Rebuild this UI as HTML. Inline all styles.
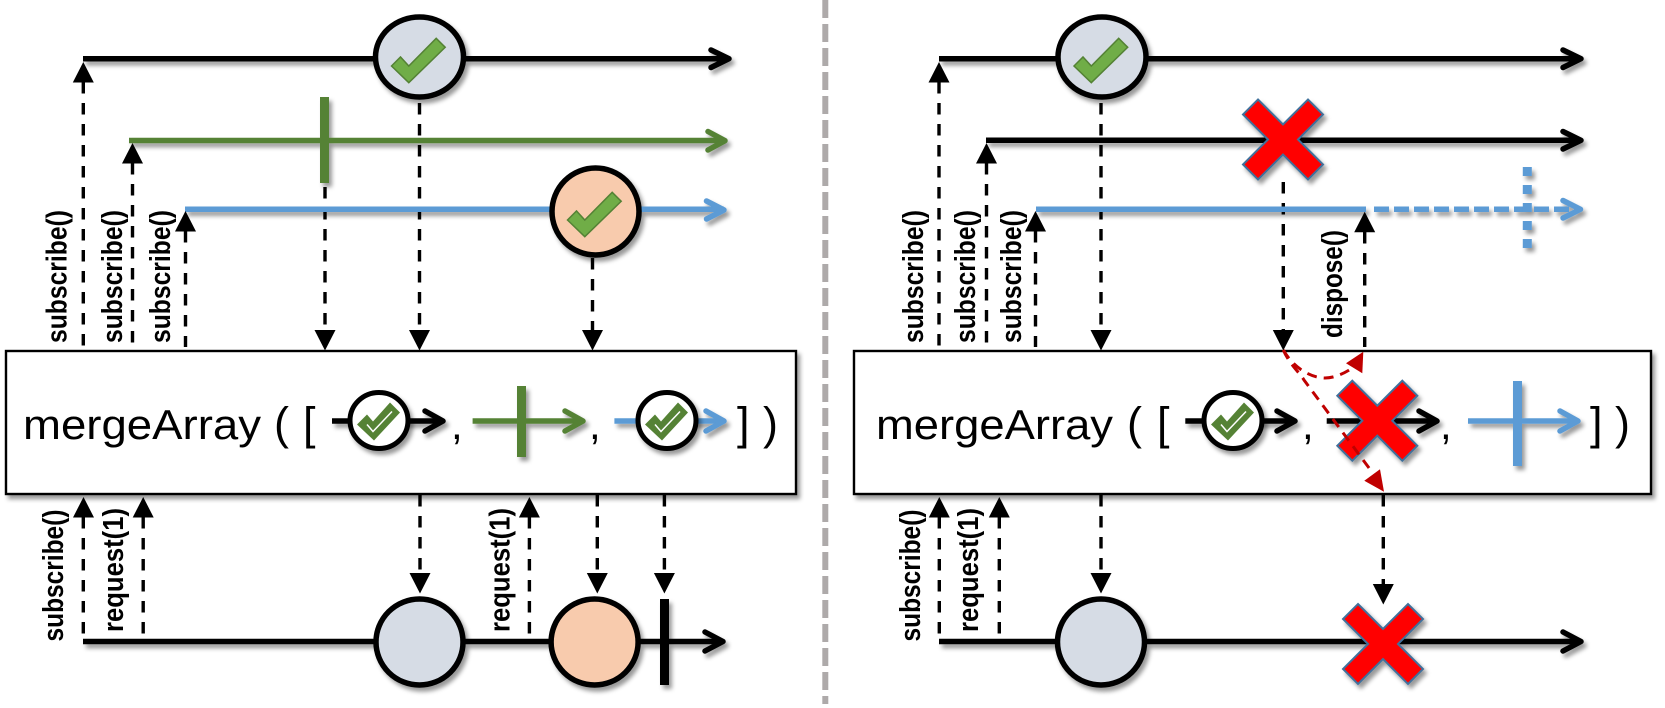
<!DOCTYPE html>
<html><head><meta charset="utf-8"><style>
html,body{margin:0;padding:0;background:#fff}
svg{display:block}
text{font-family:"Liberation Sans",sans-serif;fill:#000}
.b{font-weight:bold;font-size:29px}
.m{font-size:42px}
.p{font-size:45px}
.d{stroke:#000;stroke-width:3.4;stroke-dasharray:11.5 9.5;fill:none}
.a{fill:none;stroke-linecap:round;stroke-linejoin:round;stroke-width:5.5}
</style></head><body>
<svg width="1665" height="708" viewBox="0 0 1665 708" xmlns="http://www.w3.org/2000/svg">
<defs>
<filter id="s" x="-30%" y="-30%" width="160%" height="160%"><feDropShadow dx="3" dy="4" stdDeviation="2.2" flood-color="#000" flood-opacity="0.4"/></filter>
<polygon id="x" points="-25,-40 0,-15 25,-40 40,-25 15,0 40,25 25,40 0,15 -25,40 -40,25 -15,0 -40,-25" fill="#f00" stroke="#41719c" stroke-width="2"/>
<polygon id="c" points="-28,9 -19,0 -10.7,9 16.7,-18.7 25.7,-9.7 -10.7,25.7" fill="#70ad47" stroke="#548235" stroke-width="1.5"/>
<g id="mc"><ellipse cx="0" cy="0" rx="29" ry="28" fill="#fff" stroke="#000" stroke-width="5"/><polygon points="-22,4 -12,-6 -6,1 11,-18 21,-8 -5,20" fill="#548235"/><polyline points="-12,4 -6,11 13,-9" fill="none" stroke="#fff" stroke-width="1.5"/></g>
<polygon id="up" points="0,0 10.5,20.5 -10.5,20.5" fill="#000"/>
<polygon id="dn" points="0,20.5 10.5,0 -10.5,0" fill="#000"/>
</defs>

<!-- divider -->
<line x1="825.3" y1="0" x2="825.3" y2="704" stroke="#aeaaaa" stroke-width="6" stroke-dasharray="18 6"/>

<!-- LEFT dashes -->
<path class="d" d="M83.3,82V347M132.5,163V347M185.5,231V347M325,187V330M419.5,103V330M592.5,258V330"/>
<path class="d" d="M83.3,517V637M143.2,517V637M529.4,517V637M420,495V573M597.3,495V573M664.4,495V573"/>
<!-- RIGHT dashes -->
<path class="d" d="M939,82V347M986.5,163V347M1035.5,231V347M1101,103V330M1283.3,182V330M1364.7,232V347"/>
<path class="d" d="M939.3,517V637M999.3,517V637M1101,495V573M1383.3,495V584"/>

<!-- LEFT top lines -->
<g filter="url(#s)">
<path d="M83,58.7H728" stroke="#000" stroke-width="5.5" fill="none"/>
<polyline class="a" stroke="#000" points="711,50 729,58.7 711,67.5"/>
<path d="M129,140.5H724" stroke="#548235" stroke-width="5.5" fill="none"/>
<polyline class="a" stroke="#548235" points="708,131.5 725,140.7 708,150"/>
<rect x="320" y="97" width="9" height="86" fill="#548235"/>
<path d="M185,209.3H724" stroke="#5b9bd5" stroke-width="5.5" fill="none"/>
<polyline class="a" stroke="#5b9bd5" points="706.5,201 724,210 706.5,219"/>
<ellipse cx="419.5" cy="57" rx="44" ry="40" fill="#d6dce5" stroke="#000" stroke-width="5.5"/>
<ellipse cx="595.5" cy="211.5" rx="43.5" ry="43.5" fill="#f8cbad" stroke="#000" stroke-width="5.5"/>
</g>
<use href="#c" x="419.5" y="57"/>
<use href="#c" x="595.5" y="211"/>
<use href="#up" x="83.3" y="62"/><use href="#up" x="132.5" y="143"/><use href="#up" x="185.5" y="211"/>
<use href="#dn" x="325" y="330"/><use href="#dn" x="419.5" y="330"/><use href="#dn" x="592.5" y="330"/>

<!-- LEFT box -->
<rect x="6" y="351" width="790" height="143" fill="#fff" stroke="#000" stroke-width="2.4" filter="url(#s)"/>
<text class="m" x="23" y="439" textLength="238" lengthAdjust="spacingAndGlyphs">mergeArray</text>
<text class="p" x="274" y="439">(</text><text class="p" x="303" y="439">[</text>
<text class="m" x="451" y="439">,</text><text class="m" x="589" y="439">,</text>
<text class="p" x="737" y="439">]</text><text class="p" x="763" y="439">)</text>
<g filter="url(#s)">
<path d="M332,421H442" stroke="#000" stroke-width="5.5" fill="none"/>
<polyline class="a" stroke="#000" points="425,411 443,421 425,431"/>
<path d="M472.6,421H582" stroke="#548235" stroke-width="5.5" fill="none"/>
<polyline class="a" stroke="#548235" points="565,411 583,421 565,431"/>
<rect x="517" y="386" width="9" height="71" fill="#548235"/>
<path d="M614.4,421H723" stroke="#5b9bd5" stroke-width="5.5" fill="none"/>
<polyline class="a" stroke="#5b9bd5" points="706,411 724,421 706,431"/>
</g>
<g filter="url(#s)"><use href="#mc" x="379" y="420.5"/><use href="#mc" x="667" y="420.5"/></g>

<!-- LEFT bottom -->
<g filter="url(#s)">
<path d="M83,641.5H722" stroke="#000" stroke-width="5.5" fill="none"/>
<polyline class="a" stroke="#000" points="705,632 723,641.5 705,651"/>
<ellipse cx="419.5" cy="642" rx="43.5" ry="43" fill="#d6dce5" stroke="#000" stroke-width="5.5"/>
<ellipse cx="594.6" cy="642" rx="43.5" ry="43" fill="#f8cbad" stroke="#000" stroke-width="5.5"/>
<rect x="660" y="599" width="9" height="86" fill="#000"/>
</g>
<use href="#up" x="83.5" y="497"/><use href="#up" x="143.2" y="497"/><use href="#up" x="529.4" y="497"/>
<use href="#dn" x="420" y="573"/><use href="#dn" x="597.3" y="573"/><use href="#dn" x="664.4" y="573"/>

<!-- LEFT labels -->
<text class="b" transform="translate(66.5,343) rotate(-90)" textLength="133" lengthAdjust="spacingAndGlyphs">subscribe()</text>
<text class="b" transform="translate(122,343) rotate(-90)" textLength="133" lengthAdjust="spacingAndGlyphs">subscribe()</text>
<text class="b" transform="translate(170,343) rotate(-90)" textLength="133" lengthAdjust="spacingAndGlyphs">subscribe()</text>
<text class="b" transform="translate(63,641.5) rotate(-90)" textLength="132" lengthAdjust="spacingAndGlyphs">subscribe()</text>
<text class="b" transform="translate(123,632) rotate(-90)" textLength="124" lengthAdjust="spacingAndGlyphs">request(1)</text>
<text class="b" transform="translate(509.6,632) rotate(-90)" textLength="124" lengthAdjust="spacingAndGlyphs">request(1)</text>

<!-- RIGHT top -->
<g filter="url(#s)">
<path d="M939,58.7H1580" stroke="#000" stroke-width="5.5" fill="none"/>
<polyline class="a" stroke="#000" points="1563,50 1581,58.7 1563,67.5"/>
<path d="M986,140.3H1580" stroke="#000" stroke-width="5.5" fill="none"/>
<polyline class="a" stroke="#000" points="1563,131.5 1581,140.3 1563,149"/>
<path d="M1036,209.3H1366" stroke="#5b9bd5" stroke-width="5.5" fill="none"/>
<path d="M1374,209.3H1579" stroke="#5b9bd5" stroke-width="5.5" fill="none" stroke-dasharray="15 5"/>
<polyline class="a" stroke="#5b9bd5" points="1563,200.5 1580.5,209.3 1563,218"/>
<path d="M1527.3,167V248" stroke="#5b9bd5" stroke-width="9" fill="none" stroke-dasharray="9 9"/>
<ellipse cx="1102" cy="57" rx="44" ry="40" fill="#d6dce5" stroke="#000" stroke-width="5.5"/>
<use href="#x" x="1283" y="139.5"/>
</g>
<use href="#c" x="1102" y="57"/>
<use href="#up" x="939" y="62"/><use href="#up" x="986.5" y="143"/><use href="#up" x="1035.5" y="211"/><use href="#up" x="1364.7" y="211.7"/>
<use href="#dn" x="1101" y="330"/><use href="#dn" x="1283.3" y="330"/>

<!-- RIGHT box -->
<rect x="854" y="351" width="797" height="143" fill="#fff" stroke="#000" stroke-width="2.4" filter="url(#s)"/>
<text class="m" x="876" y="439" textLength="237" lengthAdjust="spacingAndGlyphs">mergeArray</text>
<text class="p" x="1127" y="439">(</text><text class="p" x="1157" y="439">[</text>
<text class="m" x="1302" y="439">,</text><text class="m" x="1440" y="439">,</text>
<text class="p" x="1590" y="439">]</text><text class="p" x="1615" y="439">)</text>
<g filter="url(#s)">
<path d="M1185.3,421H1294" stroke="#000" stroke-width="5.5" fill="none"/>
<polyline class="a" stroke="#000" points="1277,411 1295,421 1277,431"/>
<path d="M1326.7,421H1436" stroke="#000" stroke-width="5.5" fill="none"/>
<polyline class="a" stroke="#000" points="1419,411 1437,421 1419,431"/>
<path d="M1468,421H1577" stroke="#5b9bd5" stroke-width="5.5" fill="none"/>
<polyline class="a" stroke="#5b9bd5" points="1560,411 1578,421 1560,431"/>
<rect x="1513" y="381" width="9" height="85" fill="#5b9bd5"/>
<use href="#x" x="1377.3" y="420.7"/>
</g>
<g filter="url(#s)"><use href="#mc" x="1233" y="420.5"/></g>

<!-- RIGHT bottom -->
<g filter="url(#s)">
<path d="M939,641.5H1580" stroke="#000" stroke-width="5.5" fill="none"/>
<polyline class="a" stroke="#000" points="1563,632 1581,641.5 1563,651"/>
<ellipse cx="1101" cy="642" rx="43.5" ry="43" fill="#d6dce5" stroke="#000" stroke-width="5.5"/>
<use href="#x" x="1383" y="644"/>
</g>
<use href="#up" x="939.3" y="497"/><use href="#up" x="999.3" y="497"/>
<use href="#dn" x="1101" y="573"/><use href="#dn" x="1383.3" y="584"/>

<!-- red curves -->
<path d="M1283.3,350C1296,372 1315,378 1325,378C1335,378 1345,373 1354,367" fill="none" stroke="#c00000" stroke-width="3" stroke-dasharray="10 7"/>
<polygon points="1363.3,351.7 1346,363.3 1362.3,373.3" fill="#c00000"/>
<path d="M1283.3,350C1290,365 1300,373 1304,380L1372,472" fill="none" stroke="#c00000" stroke-width="3" stroke-dasharray="10 7"/>
<polygon points="1384,491.7 1364.3,480.7 1380,469.3" fill="#c00000"/>

<!-- RIGHT labels -->
<text class="b" transform="translate(923,343) rotate(-90)" textLength="133" lengthAdjust="spacingAndGlyphs">subscribe()</text>
<text class="b" transform="translate(975,343) rotate(-90)" textLength="133" lengthAdjust="spacingAndGlyphs">subscribe()</text>
<text class="b" transform="translate(1021,343) rotate(-90)" textLength="133" lengthAdjust="spacingAndGlyphs">subscribe()</text>
<text class="b" transform="translate(1342,338) rotate(-90)" textLength="108" lengthAdjust="spacingAndGlyphs">dispose()</text>
<text class="b" transform="translate(920,641.5) rotate(-90)" textLength="132" lengthAdjust="spacingAndGlyphs">subscribe()</text>
<text class="b" transform="translate(978,632) rotate(-90)" textLength="124" lengthAdjust="spacingAndGlyphs">request(1)</text>
</svg>
</body></html>
